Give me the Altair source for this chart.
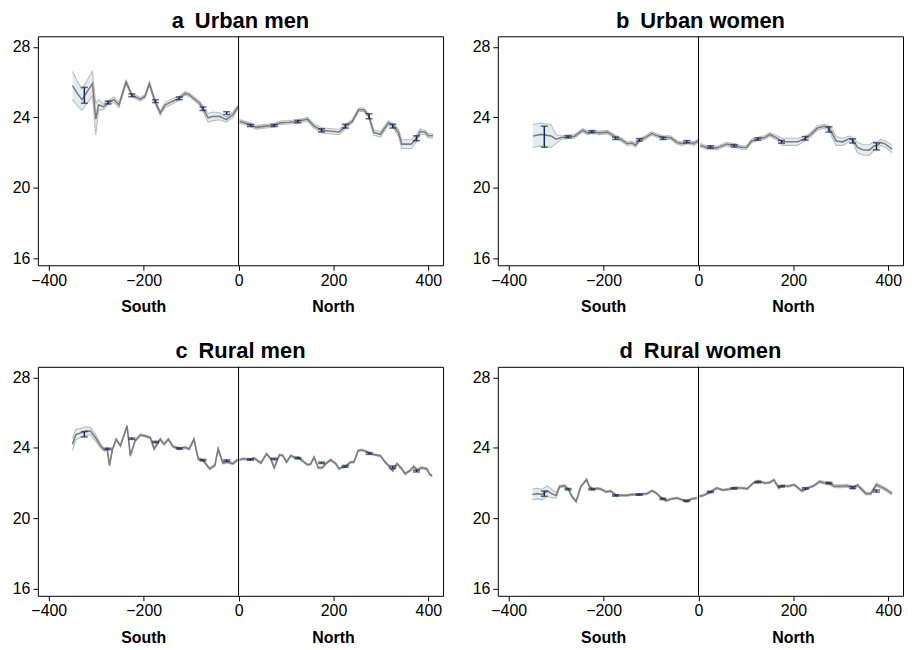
import altair as alt
import pandas as pd

FONT = "Liberation Sans"
NAVY = "#1b2a5c"
LINE = "#7d7d7d"
EDGE = "#bcbcbc"
FILL = "#e3edf1"
W, H = 407, 230

bin_x = [-325, -275, -225, -175, -125, -75, -25, 25, 75, 125, 175, 225, 275, 325, 375]

# ---- panel a: Urban men
a_x = [-350, -340, -330, -318, -308, -301, -295, -285, -274, -263, -252, -237, -225, -207, -197, -188,
       -176, -165, -155, -141, -125, -113, -105, -82, -75, -64, -55, -40, -26, -12, -1,
       2, 23, 37, 58, 75, 89, 107, 124, 145, 159, 176, 191, 212, 226, 240, 253, 264, 274, 285,
       299, 316, 327, 337, 344, 364, 376, 383, 393, 400, 410]
a_y = [25.8, 25.36, 25.0, 25.5, 25.92, 23.9, 24.71, 24.6, 24.84, 25.0, 24.71, 26.0, 25.27, 25.02, 25.2, 25.92,
       24.89, 24.24, 24.7, 24.89, 25.08, 25.36, 25.3, 24.8, 24.49, 23.97, 24.05, 24.06, 23.87, 24.15, 24.6,
       23.78, 23.6, 23.43, 23.5, 23.55, 23.69, 23.72, 23.76, 23.9, 23.5, 23.26, 23.22, 23.17, 23.5, 23.78,
       24.43, 24.43, 24.1, 23.13, 23.04, 23.69, 23.5, 23.13, 22.48, 22.48, 22.85, 23.2, 23.15, 22.95, 22.95]
a_hw = [0.8, 0.7, 0.6, 0.65, 0.7, 0.9, 0.3, 0.15, 0.12, 0.15, 0.15, 0.12, 0.1, 0.1, 0.1, 0.1,
        0.12, 0.12, 0.15, 0.15, 0.12, 0.1, 0.1, 0.12, 0.15, 0.25, 0.25, 0.2, 0.15, 0.15, 0.1,
        0.1, 0.1, 0.1, 0.1, 0.1, 0.1, 0.1, 0.1, 0.1, 0.12, 0.15, 0.15, 0.15, 0.12, 0.1,
        0.1, 0.1, 0.12, 0.15, 0.15, 0.12, 0.12, 0.2, 0.25, 0.25, 0.2, 0.15, 0.12, 0.12, 0.12]
a_bin = [25.25, 24.84, 25.25, 24.92, 25.08, 24.49, 24.24, 23.54, 23.54, 23.76, 23.26, 23.5, 24.06, 23.5, 22.81]
a_bin_hw = [0.45, 0.08, 0.08, 0.08, 0.08, 0.1, 0.08, 0.06, 0.06, 0.07, 0.09, 0.11, 0.14, 0.11, 0.14]

# ---- panel b: Urban women
b_x = [-349, -332, -311, -300, -290, -274, -262, -244, -234, -223, -209, -192, -182, -173, -164, -150,
       -140, -133, -124, -112, -98, -90, -73, -59, -45, -35, -23, -10, -1,
       3, 17, 26, 38, 59, 77, 91, 101, 112, 127, 140, 150, 164, 177, 192, 209, 225, 237, 251, 265,
       276, 283, 290, 304, 318, 326, 335, 346, 360, 370, 377, 384, 394, 408]
b_y = [22.94, 23.03, 22.94, 22.76, 22.85, 22.9, 22.92, 23.27, 23.12, 23.18, 23.12, 23.16, 23.0, 22.85, 22.76, 22.5,
       22.54, 22.42, 22.7, 22.85, 23.09, 22.98, 22.85, 22.85, 22.57, 22.51, 22.6, 22.51, 22.66,
       22.42, 22.29, 22.31, 22.25, 22.48, 22.4, 22.29, 22.29, 22.66, 22.78, 22.85, 23.03, 22.85, 22.61, 22.61,
       22.61, 22.8, 23.03, 23.4, 23.5, 23.35, 23.03, 22.66, 22.61, 22.79, 22.68, 22.29, 22.16, 22.14, 22.38,
       22.4, 22.57, 22.48, 22.2]
b_hw = [0.65, 0.65, 0.65, 0.25, 0.1, 0.1, 0.1, 0.1, 0.1, 0.1, 0.1, 0.1, 0.1, 0.1, 0.1, 0.1,
        0.1, 0.1, 0.1, 0.1, 0.1, 0.1, 0.1, 0.1, 0.1, 0.1, 0.1, 0.1, 0.1,
        0.1, 0.1, 0.1, 0.1, 0.1, 0.1, 0.1, 0.1, 0.1, 0.1, 0.1, 0.1, 0.12, 0.2, 0.2, 0.2, 0.12, 0.12, 0.12, 0.12,
        0.15, 0.25, 0.25, 0.2, 0.15, 0.15, 0.3, 0.3, 0.3, 0.25, 0.2, 0.18, 0.18, 0.22]
b_bin = [22.9, 22.9, 23.18, 22.81, 22.72, 22.81, 22.61, 22.31, 22.38, 22.77, 22.61, 22.81, 23.31, 22.66, 22.35]
b_bin_hw = [0.6, 0.06, 0.06, 0.07, 0.07, 0.07, 0.07, 0.07, 0.07, 0.07, 0.08, 0.1, 0.15, 0.12, 0.2]

# ---- panel c: Rural men
c_x = [-350, -343, -333, -322, -312, -302, -291, -283, -277, -272, -266, -258, -249, -235, -228, -218,
       -207, -197, -186, -178, -165, -157, -148, -138, -124, -113, -104, -94, -85, -75, -61, -50,
       -43, -33, -24, -12, -2,
       2, 9, 24, 33, 47, 59, 68, 75, 86, 93, 101, 110, 117, 126, 145, 152, 159, 168, 176, 184,
       194, 205, 212, 218, 226, 236, 243, 252, 260, 269, 276, 288, 299, 309, 316, 325, 334, 344,
       351, 362, 369, 376, 386, 397, 403, 408]
c_y = [24.2, 24.75, 24.85, 24.95, 24.95, 24.6, 24.12, 23.88, 23.95, 23.0, 23.9, 24.49, 24.12, 25.24, 23.56, 24.4,
       24.73, 24.68, 24.58, 23.94, 24.49, 24.21, 24.49, 24.07, 23.94, 24.03, 23.94, 24.49, 23.37, 23.3, 22.81, 23.0,
       23.94, 23.14, 23.2, 23.1, 23.32,
       23.32, 23.38, 23.34, 23.41, 23.14, 23.66, 23.37, 22.87, 23.6, 23.57, 23.19, 23.56, 23.47, 23.45, 23.04,
       23.08, 23.47, 22.87, 22.87, 23.1, 23.32, 23.1, 22.81, 22.9, 22.95, 23.19, 23.19, 23.84, 23.88, 23.8,
       23.7, 23.6, 23.55, 23.19, 23.0, 22.7, 23.1, 22.81, 22.53, 22.72, 22.94, 22.75, 22.87, 22.8, 22.49, 22.42]
c_hw = [0.35, 0.3, 0.25, 0.25, 0.2, 0.2, 0.12, 0.08] + [0.06] * 29 + [0.05] * 36 + [0.06] * 8 + [0.05] * 2
c_bin = [24.77, 23.94, 24.52, 24.33, 23.97, 23.3, 23.28, 23.34, 23.37, 23.41, 23.15, 22.95, 23.68, 22.9, 22.68]
c_bin_hw = [0.15, 0.04, 0.04, 0.04, 0.04, 0.04, 0.04, 0.04, 0.04, 0.04, 0.04, 0.05, 0.05, 0.07, 0.05]

# ---- panel d: Rural women
d_x = [-350, -340, -330, -318, -310, -300, -293, -283, -274, -267, -258, -248, -236, -230, -222, -213,
       -205, -195, -185, -174, -160, -150, -140, -124, -108, -98, -90, -80, -68, -58, -45, -35, -25, -15, -3,
       2, 10, 26, 38, 52, 63, 77, 91, 103, 115, 126, 140, 150, 159, 169, 176, 188, 202, 218, 234, 243,
       255, 265, 276, 286, 300, 314, 326, 335, 353, 363, 375, 391, 408]
d_y = [21.35, 21.4, 21.35, 21.55, 21.4, 21.3, 21.8, 21.85, 21.65, 21.25, 20.95, 21.8, 22.2, 21.8, 21.65, 21.7,
       21.65, 21.5, 21.55, 21.3, 21.3, 21.3, 21.35, 21.35, 21.4, 21.57, 21.45, 21.2, 21.0, 21.1, 21.15, 21.05,
       20.95, 21.1, 21.15,
       21.25, 21.3, 21.5, 21.72, 21.6, 21.65, 21.72, 21.72, 21.68, 22.0, 22.12, 22.0, 22.03, 22.18, 21.72,
       21.85, 21.82, 21.9, 21.55, 21.75, 21.85, 22.08, 22.02, 21.98, 21.82, 21.82, 21.85, 21.72, 21.88,
       21.4, 21.4, 21.9, 21.7, 21.4]
d_hw = [0.3, 0.3, 0.3, 0.3, 0.25, 0.15, 0.08] + [0.06] * 3 + [0.05] * 25 + [0.05] * 21 + [0.06] + [0.08] * 9 + [0.1] + [0.08] * 2
d_bin = [21.4, 21.65, 21.65, 21.3, 21.35, 21.1, 21.0, 21.5, 21.7, 22.05, 21.82, 21.7, 22.0, 21.75, 21.55]
d_bin_hw = [0.15, 0.04, 0.04, 0.04, 0.04, 0.04, 0.04, 0.04, 0.04, 0.04, 0.04, 0.04, 0.04, 0.06, 0.06]

titles = ["a\u2002Urban men", "b\u2002Urban women", "c\u2002Rural men", "d\u2002Rural women"]
side_labels = ["South", "North"]
side_pos = [-200, 200]

xscale = alt.Scale(domain=[-423, 431], nice=False, zero=False)
yscale = alt.Scale(domain=[15.6, 28.6], nice=False, zero=False)
xaxis = alt.Axis(values=[-400, -200, 0, 200, 400], title=None, grid=False, domain=False,
                 tickColor="black", tickSize=5, labelFontSize=16, labelFont=FONT, labelColor="black",
                 labelPadding=2)
yaxis = alt.Axis(values=[16, 20, 24, 28], title=None, grid=False, domain=False,
                 tickColor="black", tickSize=5, labelFontSize=16, labelFont=FONT, labelColor="black",
                 labelPadding=3, minExtent=29, maxExtent=29)


def panel(title, xs, ys, hws, bins, bin_hw):
    df = pd.DataFrame({"x": xs, "y": ys, "hw": hws})
    df["lo"] = df["y"] - df["hw"]
    df["hi"] = df["y"] + df["hw"]
    df["side"] = ["S" if v < 0 else "N" for v in xs]
    eb = pd.DataFrame({"x": bin_x, "m": bins, "h": bin_hw})
    eb["lo"] = eb["m"] - eb["h"]
    eb["hi"] = eb["m"] + eb["h"]
    lab = pd.DataFrame({"x": side_pos, "t": side_labels})

    base = alt.Chart(df)
    X = alt.X("x:Q", scale=xscale, axis=xaxis)
    band = base.mark_area(color=FILL, opacity=1).encode(
        x=X, y=alt.Y("lo:Q", scale=yscale, axis=yaxis), y2="hi:Q", detail="side:N")
    lo_line = base.mark_line(color=EDGE, strokeWidth=1.1).encode(
        x=X, y=alt.Y("lo:Q", scale=yscale), detail="side:N")
    hi_line = base.mark_line(color=EDGE, strokeWidth=1.1).encode(
        x=X, y=alt.Y("hi:Q", scale=yscale), detail="side:N")
    mid = base.mark_line(color=LINE, strokeWidth=1.6).encode(
        x=X, y=alt.Y("y:Q", scale=yscale), detail="side:N")
    zero = alt.Chart(pd.DataFrame({"x": [0]})).mark_rule(color="black", strokeWidth=1).encode(x=X)
    ebase = alt.Chart(eb)
    bars = ebase.mark_rule(color=NAVY, strokeWidth=1.5).encode(
        x=X, y=alt.Y("lo:Q", scale=yscale), y2="hi:Q")
    cap_lo = ebase.mark_tick(color=NAVY, orient="horizontal", size=7, thickness=1.5).encode(
        x=X, y=alt.Y("lo:Q", scale=yscale))
    cap_hi = ebase.mark_tick(color=NAVY, orient="horizontal", size=7, thickness=1.5).encode(
        x=X, y=alt.Y("hi:Q", scale=yscale))
    txt = alt.Chart(lab).mark_text(font=FONT, fontSize=16, fontWeight="bold", color="black",
                                   baseline="middle").encode(
        x=X, y=alt.value(H + 42), text="t:N")
    return alt.layer(band, lo_line, hi_line, mid, zero, bars, cap_lo, cap_hi, txt).properties(
        width=W, height=H,
        title=alt.TitleParams(title, fontSize=22, fontWeight="bold", font=FONT, anchor="middle",
                              offset=3, color="black"))


pa = panel(titles[0], a_x, a_y, a_hw, a_bin, a_bin_hw)
pb = panel(titles[1], b_x, b_y, b_hw, b_bin, b_bin_hw)
pc = panel(titles[2], c_x, c_y, c_hw, c_bin, c_bin_hw)
pd_ = panel(titles[3], d_x, d_y, d_hw, d_bin, d_bin_hw)

chart = alt.vconcat(
    alt.hconcat(pa, pb, spacing=24),
    alt.hconcat(pc, pd_, spacing=24),
    spacing=24,
).properties(padding=0).configure(background="white").configure_view(stroke="black", strokeWidth=1)

chart.save("out.html", embed_options={"renderer": "svg", "actions": False})
